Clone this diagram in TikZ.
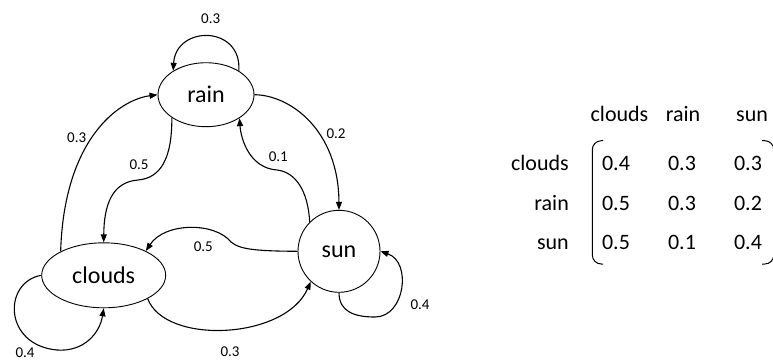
\documentclass[tikz,border=0pt]{standalone}
\usepackage{fontspec}
\setmainfont{Carlito}
\usetikzlibrary{shapes.geometric,arrows.meta}

\tikzset{
  state/.style={draw, line width=0.9pt, inner sep=0pt, font=\fontsize{24}{28}\selectfont},
  trans/.style={line width=1.1pt, -{Triangle[length=8pt,width=6pt]}},
  prob/.style={font=\fontsize{15}{18}\selectfont, inner sep=0pt},
  mtxt/.style={font=\fontsize{22}{26}\selectfont, inner sep=0pt, anchor=base},
  bracket/.style={line width=1pt, rounded corners=9pt}
}

\begin{document}
\begin{tikzpicture}[x=1pt,y=-1pt]
\useasboundingbox (0,0) rectangle (773,360);

% states
\node[state, ellipse, minimum width=96pt, minimum height=64pt] (rain) at (206,94.7) {rain};
\node[state, ellipse, minimum width=124pt, minimum height=65pt] (clouds) at (103.7,275.3) {clouds};
\node[state, circle, minimum size=82pt] (sun) at (339,251.3) {sun};

% way points of the wavy transitions
\coordinate (wrc) at (138,180);
\coordinate (wsr) at (277,170);
\coordinate (wsc) at (231,242);
\coordinate (wcl) at (57,350);
\coordinate (wsl) at (375,317);

% self loops
\draw[trans] (rain.36) .. controls (242,25) and (176,25) .. (rain.144);
\draw[trans] (clouds.west) .. controls (3,282) and (3,345) .. (wcl)
             .. controls (85,352) and (100,332) .. (clouds.south);
\draw[trans] (sun.south) .. controls (339,312) and (355,317) .. (wsl)
             .. controls (405,317) and (412,262) .. (sun.east);

% transitions between states
\draw[trans] (clouds.151) .. controls (64,140) and (118,100) .. (rain.west);
\draw[trans] (rain.214) .. controls (172,160) and (160,178) .. (wrc)
             .. controls (112,182) and (104,205) .. (clouds.north);
\draw[trans] (rain.east) .. controls (290,95) and (338.5,130) .. (sun.north);
\draw[trans] (sun.135) .. controls (308,190) and (295,172) .. (wsr)
             .. controls (250,168) and (241,140) .. (rain.-35);
\draw[trans] (sun.west) .. controls (260,251) and (240,250) .. (wsc)
             .. controls (215,222) and (165,222) .. (clouds.30);
\draw[trans] (clouds.-28) .. controls (165,345) and (285,340) .. (sun.227);

% transition probabilities
\node[prob] (p1) at (210.7,18.3) {0.3};
\node[prob] (p2) at (76.7,137.7) {0.3};
\node[prob] (p3) at (139,165) {0.5};
\node[prob] (p4) at (336,133.3) {0.2};
\node[prob] (p5) at (278.3,156.5) {0.1};
\node[prob] (p6) at (203.3,246.7) {0.5};
\node[prob] (p7) at (230,351.7) {0.3};
\node[prob] (p8) at (25,353) {0.4};
\node[prob] (p9) at (420,305) {0.4};

% transition matrix: headers
\node[mtxt] (hc) at (619.5,121.7) {clouds};
\node[mtxt] (hr) at (683,121.7) {rain};
\node[mtxt] (hs) at (752,121.7) {sun};
% row labels
\node[mtxt, anchor=base east] (rc) at (569,170) {clouds};
\node[mtxt, anchor=base east] (rr) at (569,210) {rain};
\node[mtxt, anchor=base east] (rs) at (569,249.3) {sun};
% entries
\node[mtxt] (m11) at (616,170) {0.4};
\node[mtxt] (m12) at (682,170) {0.3};
\node[mtxt] (m13) at (748,170) {0.3};
\node[mtxt] (m21) at (616,210) {0.5};
\node[mtxt] (m22) at (682,210) {0.3};
\node[mtxt] (m23) at (748,210) {0.2};
\node[mtxt] (m31) at (616,249.3) {0.5};
\node[mtxt] (m32) at (682,249.3) {0.1};
\node[mtxt] (m33) at (748,249.3) {0.4};
% brackets
\draw[bracket] (603,140.7) -- (592.3,140.7) -- (592.3,264) -- (603,264);
\draw[bracket] (762,140.7) -- (773.8,140.7) -- (773.8,264) -- (762,264);
\end{tikzpicture}
\end{document}
